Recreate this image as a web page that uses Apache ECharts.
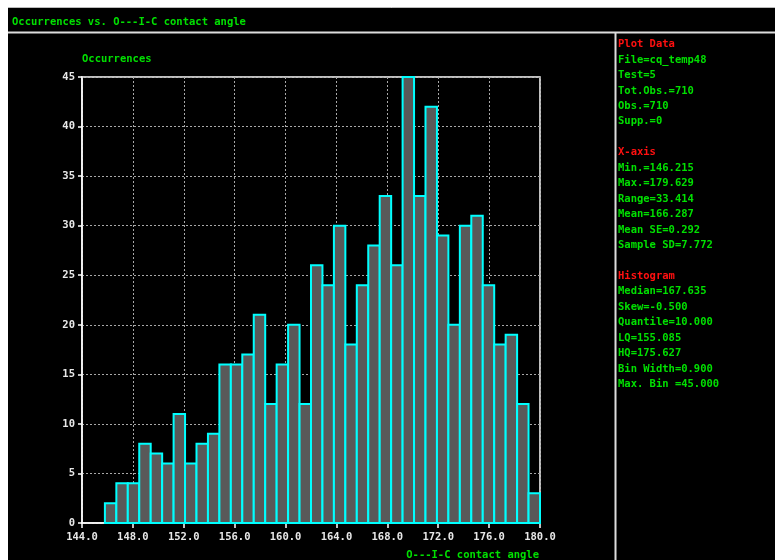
<!DOCTYPE html>
<html>
<head>
<meta charset="utf-8">
<script src="https://cdn.jsdelivr.net/npm/echarts@6/dist/echarts.min.js"></script>
<style>
html,body{margin:0;padding:0;background:#fff;}
#chart{width:775px;height:560px;}
</style>
</head>
<body>
<div id="chart"></div>
<script>
// ---- data ----
var titleText = 'Occurrences vs. O---I-C contact angle';
var yAxisName = 'Occurrences';
var xAxisName = 'O---I-C contact angle';
var binStart = 145.8;
var binWidth = 0.9;
var counts = [2,4,4,8,7,6,11,6,8,9,16,16,17,21,12,16,20,12,26,24,30,18,24,28,33,26,45,33,42,29,20,30,31,24,18,19,12,3];
var xMin = 144, xMax = 180, xInterval = 4;
var yMin = 0, yMax = 45, yInterval = 5;
var panelHeads = ['Plot Data', 'X-axis', 'Histogram'];
var panelPlot = ['File=cq_temp48', 'Test=5', 'Tot.Obs.=710', 'Obs.=710', 'Supp.=0'];
var panelX = ['Min.=146.215', 'Max.=179.629', 'Range=33.414', 'Mean=166.287', 'Mean SE=0.292', 'Sample SD=7.772'];
var panelHist = ['Median=167.635', 'Skew=-0.500', 'Quantile=10.000', 'LQ=155.085', 'HQ=175.627', 'Bin Width=0.900', 'Max. Bin =45.000'];

// ---- build ----
var bins = counts.map(function (c, i) {
  var lo = binStart + i * binWidth;
  return [lo, lo + binWidth, c];
});

var FONT = '"DejaVu Sans Mono", monospace';
var GREEN = '#00e000';
var RED = '#ff1010';

var graphics = [
  {type: 'rect', shape: {x: 8, y: 8, width: 767, height: 552}, style: {fill: '#000'}, z: -10, silent: true},
  {type: 'line', shape: {x1: 8, y1: 7.5, x2: 775, y2: 7.5}, style: {stroke: '#bbb', lineWidth: 1}, z: -9},
  {type: 'line', shape: {x1: 8, y1: 32.5, x2: 775, y2: 32.5}, style: {stroke: '#ddd', lineWidth: 2}, z: -9},
  {type: 'line', shape: {x1: 615.5, y1: 33, x2: 615.5, y2: 560}, style: {stroke: '#ddd', lineWidth: 2}, z: -9},
  {type: 'text', x: 12, y: 22, style: {text: titleText, fill: GREEN, font: 'bold 10.5px ' + FONT, textVerticalAlign: 'middle'}},
  {type: 'text', x: 82, y: 59.5, style: {text: yAxisName, fill: GREEN, font: 'bold 10.5px ' + FONT, textVerticalAlign: 'middle'}},
  {type: 'text', x: 539, y: 555, style: {text: xAxisName, fill: GREEN, font: 'bold 10.5px ' + FONT, textAlign: 'right', textVerticalAlign: 'middle'}}
];

var lineH = 15.45;
var panelY = 44.5;
var row = 0;
function addLine(t, col) {
  graphics.push({type: 'text', x: 618, y: panelY + row * lineH,
    style: {text: t, fill: col, font: 'bold 10.5px ' + FONT, textVerticalAlign: 'middle'}});
  row++;
}
[[panelHeads[0], panelPlot], [panelHeads[1], panelX], [panelHeads[2], panelHist]].forEach(function (g, gi) {
  if (gi > 0) row++;
  addLine(g[0], RED);
  g[1].forEach(function (t) { addLine(t, GREEN); });
});

var chart = echarts.init(document.getElementById('chart'), null, {renderer: 'canvas'});
chart.setOption({
  backgroundColor: '#fff',
  animation: false,
  grid: {left: 82, top: 77, width: 458, height: 446, show: true, borderColor: '#fff', borderWidth: 1.5, backgroundColor: 'transparent'},
  xAxis: {
    type: 'value', min: xMin, max: xMax, interval: xInterval,
    axisLine: {show: true, lineStyle: {color: '#fff', width: 1.5}},
    axisTick: {show: true, length: 5, lineStyle: {color: '#fff', width: 1.5}},
    axisLabel: {color: '#e8e8e8', fontFamily: FONT, fontSize: 10.5, fontWeight: 'bold', margin: 9,
      formatter: function (v) { return v.toFixed(1); }},
    splitLine: {show: true, lineStyle: {color: '#a8a8a8', width: 1, type: [2, 2]}}
  },
  yAxis: {
    type: 'value', min: yMin, max: yMax, interval: yInterval,
    axisLine: {show: true, lineStyle: {color: '#fff', width: 1.5}},
    axisTick: {show: true, length: 4, lineStyle: {color: '#fff', width: 1.5}},
    axisLabel: {color: '#e8e8e8', fontFamily: FONT, fontSize: 10.5, fontWeight: 'bold', margin: 7},
    splitLine: {show: true, lineStyle: {color: '#a8a8a8', width: 1, type: [2, 2]}}
  },
  series: [{
    type: 'custom',
    data: bins,
    encode: {x: [0, 1], y: 2},
    clip: false,
    renderItem: function (params, api) {
      var p0 = api.coord([api.value(0), api.value(2)]);
      var p1 = api.coord([api.value(1), 0]);
      return {
        type: 'rect',
        shape: {x: p0[0], y: p0[1], width: p1[0] - p0[0], height: p1[1] - p0[1]},
        style: {fill: '#595959', stroke: '#00ffff', lineWidth: 2}
      };
    }
  }],
  graphic: graphics
});
</script>
</body>
</html>
